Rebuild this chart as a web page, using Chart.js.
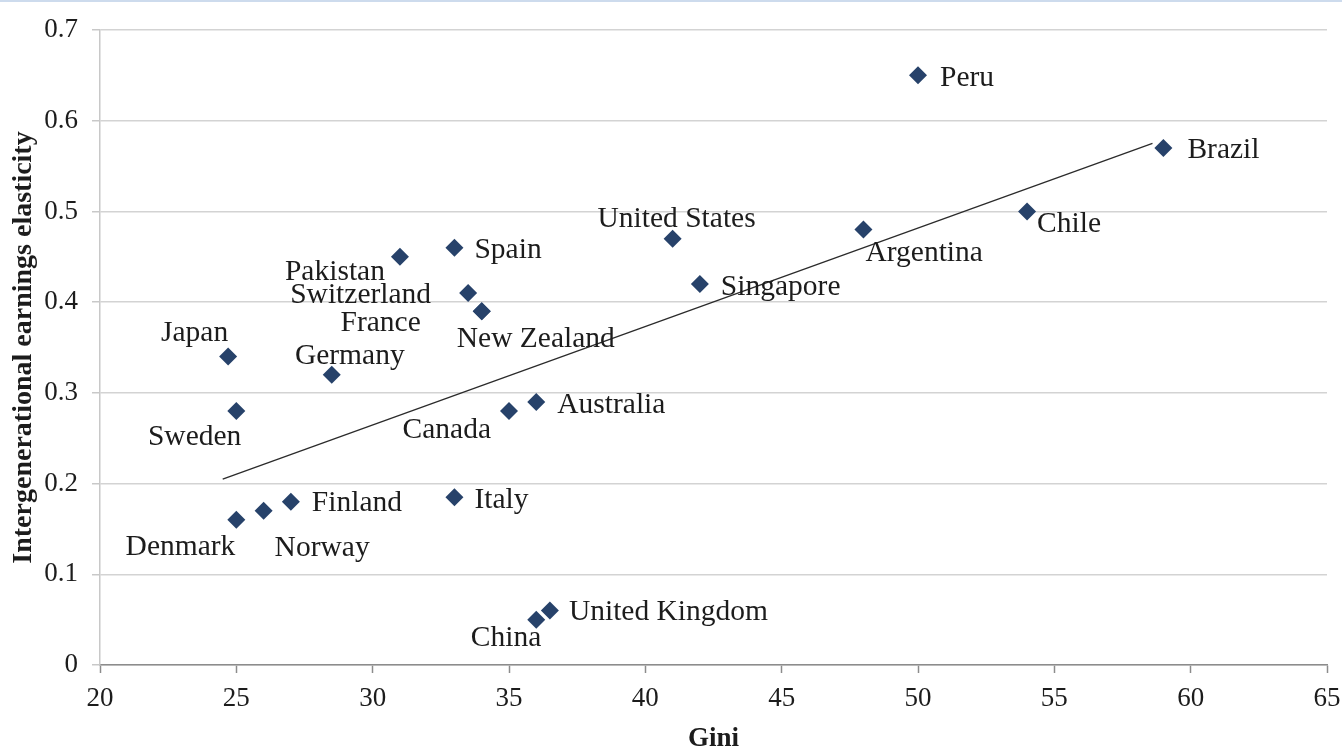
<!DOCTYPE html>
<html>
<head>
<meta charset="utf-8">
<script src="https://cdn.jsdelivr.net/npm/chart.js@4.4.1/dist/chart.umd.min.js"></script>
<style>
    html, body { margin: 0; padding: 0; background: #fff; }
    .wrap { position: relative; width: 1342px; height: 747px; }
    .topline { position: absolute; left: 0; top: 0; width: 1342px; height: 2px; background: #cddbed; }
    canvas { display: block; }
</style>
</head>
<body>
<div class="wrap">
    <canvas id="giniChart" width="1342" height="747"></canvas>
    <div class="topline"></div>
</div>
<script>
// Data
const countries = ['Peru', 'Brazil', 'Chile', 'Argentina', 'United States', 'Singapore', 'Spain',
    'Pakistan', 'Switzerland', 'France', 'New Zealand', 'Japan', 'Germany', 'Sweden', 'Canada',
    'Australia', 'Finland', 'Norway', 'Denmark', 'Italy', 'United Kingdom', 'China'];
const gini = [50, 59, 54, 48, 41, 42, 33, 31, 33.5, 34, 34, 24.7, 28.5, 25, 35, 36, 27, 26, 25, 33, 36.5, 36];
const elasticity = [0.65, 0.57, 0.50, 0.48, 0.47, 0.42, 0.46, 0.45, 0.41, 0.39, 0.39, 0.34, 0.32, 0.28,
    0.28, 0.29, 0.18, 0.17, 0.16, 0.185, 0.06, 0.05];
const trendGini = [24.5, 58.6];
const trendElasticity = [0.205, 0.575];
const xTicks = [20, 25, 30, 35, 40, 45, 50, 55, 60, 65];
const yTicks = [0, 0.1, 0.2, 0.3, 0.4, 0.5, 0.6, 0.7];

// Label placement relative to each marker: [dx, dy, align]
const labelPlacement = [
    [22, 1, 'left'], [24, 0, 'left'], [10, 11, 'left'], [2, 22, 'left'], [4, -21, 'center'],
    [21, 1, 'left'], [20, 1, 'left'], [-15, 13, 'right'], [-37, 0, 'right'], [-61, 10, 'right'],
    [-25, 26, 'left'], [0, -25, 'right'], [18, -20, 'center'], [5, 24, 'right'], [-18, 17, 'right'],
    [21, 1, 'left'], [21, 0, 'left'], [11, 35, 'left'], [-1, 25, 'right'], [20, 1, 'left'],
    [19, 0, 'left'], [5, 17, 'right']
];

const serif = "'Liberation Serif', 'DejaVu Serif', serif";
const ink = '#1c1c1c';
const markerColor = '#27426a';

// Country names next to the markers
const pointLabels = {
    id: 'pointLabels',
    afterDatasetsDraw(chart) {
        const {ctx, scales: {x, y}} = chart;
        ctx.save();
        ctx.font = `29.5px ${serif}`;
        ctx.fillStyle = ink;
        ctx.textBaseline = 'middle';
        countries.forEach((name, i) => {
            const [dx, dy, align] = labelPlacement[i];
            ctx.textAlign = align;
            ctx.fillText(name, x.getPixelForValue(gini[i]) + dx, y.getPixelForValue(elasticity[i]) + dy + 2);
        });
        ctx.restore();
    }
};

new Chart(document.getElementById('giniChart'), {
    type: 'scatter',
    data: {
        datasets: [{
            label: 'Countries',
            data: gini.map((g, i) => ({x: g, y: elasticity[i]})),
            pointStyle: 'rectRot',
            pointRadius: 9,
            pointHoverRadius: 9,
            backgroundColor: markerColor,
            borderColor: markerColor,
            borderWidth: 0,
            order: 1
        }, {
            type: 'line',
            label: 'Trend',
            data: trendGini.map((g, i) => ({x: g, y: trendElasticity[i]})),
            borderColor: '#2b2b2b',
            borderWidth: 1.3,
            pointRadius: 0,
            fill: false,
            order: 2
        }]
    },
    options: {
        responsive: false,
        animation: false,
        events: [],
        layout: { padding: { top: 30, right: 15, left: 0, bottom: 0 } },
        plugins: {
            legend: { display: false },
            tooltip: { enabled: false }
        },
        scales: {
            x: {
                type: 'linear',
                min: 20,
                max: 65,
                afterFit: (scale) => {
                    scale.height = 82;
                    scale.paddingRight = 0;
                    scale.paddingLeft = 0;
                },
                afterBuildTicks: (scale) => { scale.ticks = xTicks.map(v => ({value: v})); },
                grid: {
                    drawOnChartArea: false,
                    drawTicks: true,
                    tickLength: 8,
                    tickColor: '#8c8c8c',
                    tickWidth: 1.5
                },
                border: { color: '#8c8c8c', width: 1.5 },
                ticks: {
                    color: ink,
                    padding: 10,
                    font: { family: serif, size: 27 }
                },
                title: {
                    display: true,
                    text: 'Gini',
                    color: ink,
                    padding: 0,
                    font: { family: serif, size: 27, weight: 'bold', lineHeight: 0.62 }
                }
            },
            y: {
                type: 'linear',
                min: 0,
                max: 0.7,
                afterFit: (scale) => {
                    scale.width = 100;
                    scale.paddingTop = 0;
                    scale.paddingBottom = 0;
                },
                afterBuildTicks: (scale) => { scale.ticks = yTicks.map(v => ({value: v})); },
                grid: {
                    color: '#d3d3d3',
                    lineWidth: 1.5,
                    drawTicks: true,
                    tickLength: 8,
                    tickColor: '#c8c8c8'
                },
                border: { color: '#c8c8c8', width: 1.5 },
                ticks: {
                    color: ink,
                    padding: 14,
                    font: { family: serif, size: 27 }
                },
                title: {
                    display: true,
                    text: 'Intergenerational earnings elasticity',
                    color: ink,
                    padding: { top: 7, bottom: 0 },
                    font: { family: serif, size: 28, weight: 'bold' }
                }
            }
        }
    },
    plugins: [pointLabels]
});
</script>
</body>
</html>
